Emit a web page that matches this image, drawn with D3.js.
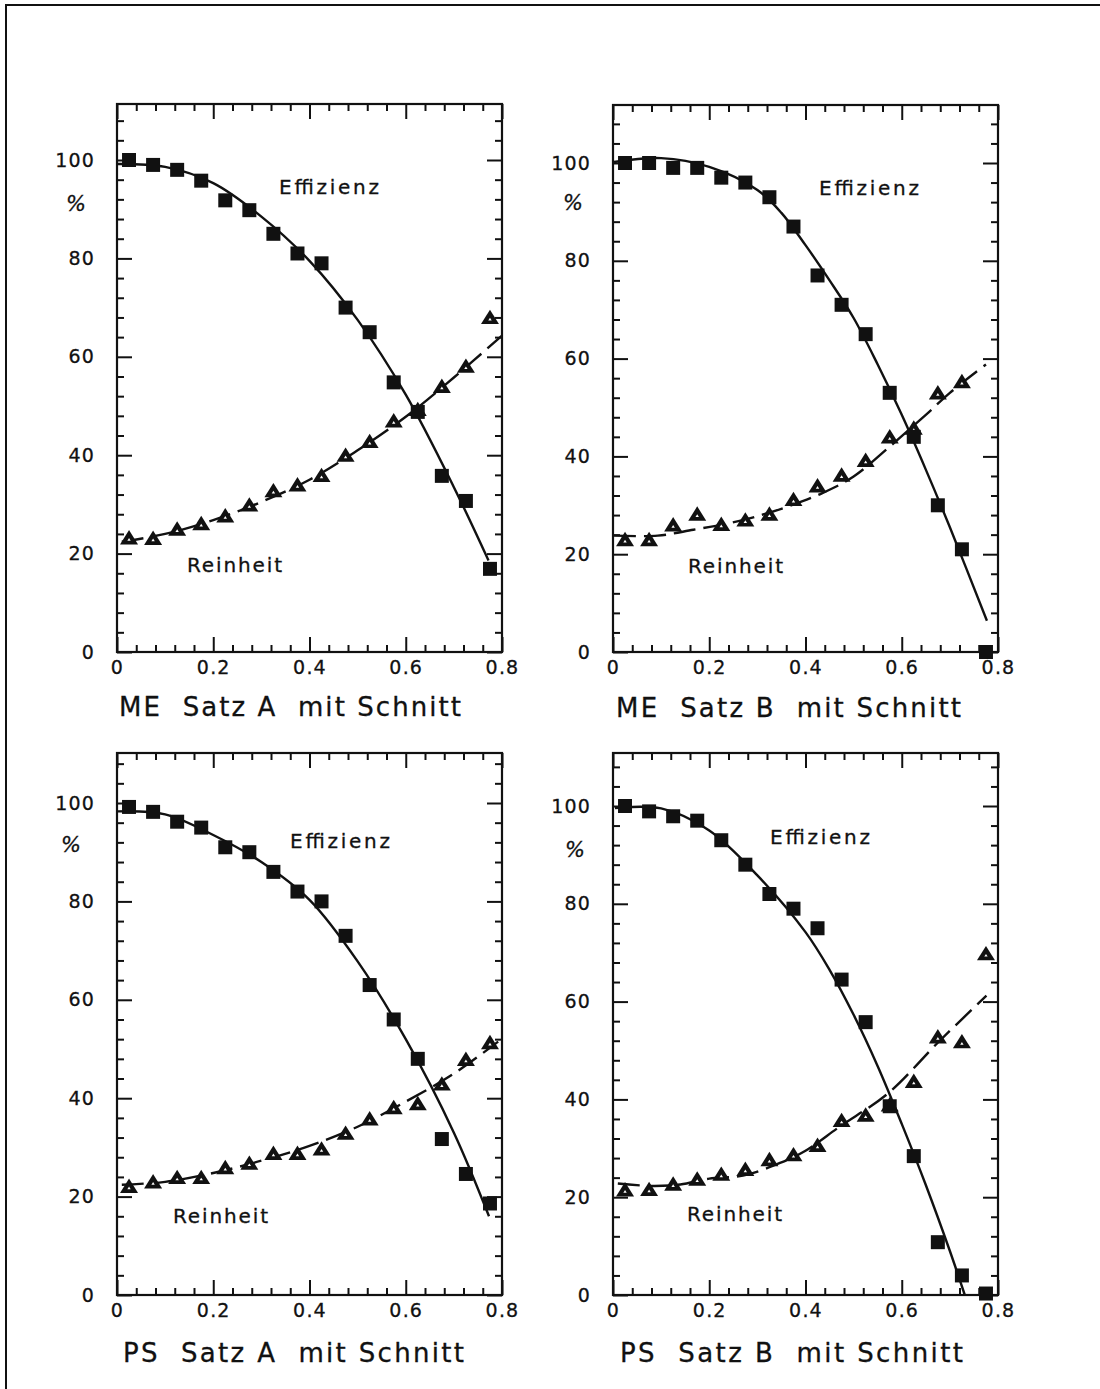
<!DOCTYPE html>
<html>
<head>
<meta charset="utf-8">
<script src="https://cdn.jsdelivr.net/npm/d3@7"></script>
<style>
  body { margin: 0; background: #fff; }
  svg { display: block; }
  text { font-family: "DejaVu Sans", sans-serif; fill: #111; }
</style>
</head>
<body>
<div id="chart"></div>
<script>
// cut values (x of the measured points)
const cutValues = [0.025, 0.075, 0.125, 0.175, 0.225, 0.275, 0.325, 0.375,
                   0.425, 0.475, 0.525, 0.575, 0.625, 0.675, 0.725, 0.775];

// measured points, in %
const effMeA  = [100, 99, 98, 95.8, 91.8, 89.8, 85, 81, 79, 70, 65, 54.8, 48.8, 35.8, 30.7, 16.9];
const reinMeA = [22.9, 22.8, 24.7, 25.8, 27.4, 29.6, 32.5, 33.7, 35.6, 39.7, 42.5, 46.7, 49, 53.7, 57.8, 67.7];
const effMeB  = [100, 100, 99, 99, 97, 96, 93, 87, 77, 71, 65, 53, 44, 30, 21, 0];
const reinMeB = [22.7, 22.7, 25.7, 27.9, 25.8, 26.7, 27.9, 30.9, 33.7, 35.9, 38.9, 43.7, 45.5, 52.7, 55, null];
const effPsA  = [99.2, 98.2, 96.2, 95, 91, 90, 86, 82, 80, 73, 63, 56, 48, 31.7, 24.6, 18.6];
const reinPsA = [21.8, 22.7, 23.6, 23.6, 25.6, 26.5, 28.5, 28.5, 29.4, 32.6, 35.5, 37.8, 38.6, 42.6, 47.6, 51];
const effPsB  = [100, 98.9, 97.9, 97, 93, 88, 82, 79, 75, 64.5, 55.8, 38.6, 28.4, 10.8, 4, 0.3];
const reinPsB = [21.2, 21.3, 22.4, 23.4, 24.4, 25.4, 27.4, 28.4, 30.3, 35.4, 36.5, 38.6, 43.4, 52.5, 51.5, 69.5];

// fitted curves [x, %]
const fitEffMeA  = [[0.002, 99.2], [0.1, 98.6], [0.2, 95.3], [0.3, 88.5], [0.4, 79.5], [0.5, 67.5], [0.6, 52.3], [0.7, 33.5], [0.772, 18.6]];
const fitReinMeA = [[0.01, 22.4], [0.1, 24], [0.2, 26.8], [0.3, 30.5], [0.4, 35], [0.5, 41], [0.6, 47.8], [0.7, 55.8], [0.8, 64.3]];
const fitEffMeB  = [[0.002, 100.2], [0.1, 101], [0.2, 99.2], [0.3, 94.5], [0.35, 89.8], [0.4, 83.2], [0.45, 76], [0.5, 68.3], [0.55, 58.8], [0.6, 48.5], [0.65, 37.3], [0.7, 25.5], [0.777, 6.4]];
const fitReinMeB = [[0.002, 23.8], [0.093, 23.8], [0.167, 25], [0.24, 26.3], [0.308, 28], [0.368, 29.9], [0.435, 32.5], [0.5, 35.9], [0.575, 42], [0.65, 48.5], [0.7, 53], [0.775, 58.8]];
const fitEffPsA  = [[0.002, 98.3], [0.1, 97.7], [0.2, 93.5], [0.3, 88], [0.4, 80.3], [0.5, 67.8], [0.6, 52], [0.7, 33], [0.773, 16]];
const fitReinPsA = [[0.01, 22.4], [0.1, 23], [0.2, 24.8], [0.3, 27.3], [0.4, 30.3], [0.5, 34.2], [0.6, 39.3], [0.7, 45], [0.792, 51.5]];
const fitEffPsB  = [[0.004, 99.6], [0.1, 99.5], [0.2, 95], [0.3, 85.8], [0.4, 74.2], [0.45, 66.5], [0.5, 57.3], [0.55, 46.8], [0.6, 35], [0.65, 22.5], [0.7, 9], [0.731, 0]];
const fitReinPsB = [[0.01, 22.8], [0.08, 22.3], [0.14, 22.6], [0.2, 23.8], [0.27, 24.4], [0.347, 27], [0.4, 29.5], [0.472, 34.5], [0.571, 41.2], [0.68, 52.1], [0.776, 61.2]];

// axis ticks
const xMajorTicks = [0, 0.2, 0.4, 0.6, 0.8];
const yMajorTicks = [0, 20, 40, 60, 80, 100];

const width = 1100, height = 1389;
const boxW = 385;

// panel layout (pixels)
const panels = [
  { left: 117, top: 104, bottom: 652, y100: 160, title: "ME  Satz A  mit Schnitt",
    eff: effMeA, rein: reinMeA, effFit: fitEffMeA, reinFit: fitReinMeA,
    titleX: 2, titleY: 64, titleW: 342, effX: 162, effY: 90, reinX: 70, reinY: -80, pctX: -41, pctY: 44 },
  { left: 613, top: 105, bottom: 652, y100: 163, title: "ME  Satz B  mit Schnitt",
    eff: effMeB, rein: reinMeB, effFit: fitEffMeB, reinFit: fitReinMeB,
    titleX: 3, titleY: 65, titleW: 345, effX: 206, effY: 90, reinX: 75, reinY: -79, pctX: -40, pctY: 40 },
  { left: 117, top: 753, bottom: 1295, y100: 803, title: "PS  Satz A  mit Schnitt",
    eff: effPsA, rein: reinPsA, effFit: fitEffPsA, reinFit: fitReinPsA,
    titleX: 6, titleY: 67, titleW: 341, effX: 173, effY: 95, reinX: 56, reinY: -72, pctX: -46, pctY: 42 },
  { left: 613, top: 753, bottom: 1295, y100: 806, title: "PS  Satz B  mit Schnitt",
    eff: effPsB, rein: reinPsB, effFit: fitEffPsB, reinFit: fitReinPsB,
    titleX: 7, titleY: 67, titleW: 343, effX: 157, effY: 91, reinX: 74, reinY: -74, pctX: -38, pctY: 44 }
];

const ink = "#111";

const svg = d3.select("#chart").append("svg")
  .attr("width", width)
  .attr("height", height);

svg.append("rect").attr("width", width).attr("height", height).attr("fill", "#fff");

// page frame (left and top edge of the scan)
svg.append("path")
  .attr("d", "M6,1389 L6,5 L1100,5")
  .attr("fill", "none")
  .attr("stroke", ink)
  .attr("stroke-width", 2);

// triangle marker, size = half of its base width
const flatTriangle = {
  draw(context, size) {
    const w = size, h = size * 1.6;
    context.moveTo(0, -h * 0.64);
    context.lineTo(w, h * 0.36);
    context.lineTo(-w, h * 0.36);
    context.closePath();
  }
};
const square = d3.symbol(d3.symbolSquare, 196);
const triangle = d3.symbol(flatTriangle, 9);
const triangleInner = d3.symbol(flatTriangle, 1.7);

panels.forEach(p => {
  const boxH = p.bottom - p.top;
  const x = d3.scaleLinear().domain([0, 0.8]).range([0, boxW]);
  const y = d3.scaleLinear().domain([0, 100]).range([p.bottom - p.top, p.y100 - p.top]);
  const yMax = y.invert(0);

  const g = svg.append("g").attr("transform", "translate(" + p.left + "," + p.top + ")");

  // minor ticks
  const xMinor = d3.range(0, 0.8001, 0.04).filter(v => Math.abs(v / 0.2 - Math.round(v / 0.2)) > 1e-6);
  const yMinor = d3.range(0, yMax - 1, 4).filter(v => v % 20 !== 0);

  const axes = [
    [d3.axisBottom(x).tickValues(xMinor).tickSize(-7).tickFormat(""), "translate(0," + boxH + ")"],
    [d3.axisTop(x).tickValues(xMinor).tickSize(-7).tickFormat(""), "translate(0,0)"],
    [d3.axisLeft(y).tickValues(yMinor).tickSize(-7).tickFormat(""), "translate(0,0)"],
    [d3.axisRight(y).tickValues(yMinor).tickSize(-7).tickFormat(""), "translate(" + boxW + ",0)"],
    [d3.axisTop(x).tickValues(xMajorTicks).tickSize(-15).tickFormat(""), "translate(0,0)"],
    [d3.axisRight(y).tickValues(yMajorTicks).tickSize(-15).tickFormat(""), "translate(" + boxW + ",0)"],
    [d3.axisBottom(x).tickValues(xMajorTicks).tickSize(-15).tickPadding(9)
      .tickFormat(d => d === 0 ? "0" : d3.format(".1f")(d)), "translate(0," + boxH + ")"],
    [d3.axisLeft(y).tickValues(yMajorTicks).tickSize(-15).tickPadding(22), "translate(0,0)"]
  ];

  axes.forEach(([axis, tr]) => {
    const a = g.append("g").attr("transform", tr).call(axis);
    a.select(".domain").remove();
    a.selectAll("line").attr("stroke", ink).attr("stroke-width", 2);
    a.selectAll("text")
      .attr("font-family", "DejaVu Sans, sans-serif")
      .attr("font-size", 19)
      .attr("letter-spacing", 1.2)
      .attr("fill", ink)
      .attr("stroke", ink)
      .attr("stroke-width", 0.3);
  });

  // plot frame
  g.append("rect")
    .attr("width", boxW)
    .attr("height", boxH)
    .attr("fill", "none")
    .attr("stroke", ink)
    .attr("stroke-width", 2.2);

  const line = d3.line()
    .x(d => x(d[0]))
    .y(d => y(d[1]))
    .curve(d3.curveCatmullRom.alpha(0.5));

  g.append("path")
    .attr("d", line(p.reinFit))
    .attr("fill", "none")
    .attr("stroke", ink)
    .attr("stroke-width", 2.4)
    .attr("stroke-dasharray", "22,8");

  g.append("path")
    .attr("d", line(p.effFit))
    .attr("fill", "none")
    .attr("stroke", ink)
    .attr("stroke-width", 2.4);

  const reinPts = cutValues.map((c, i) => [c, p.rein[i]]).filter(d => d[1] != null);
  const effPts = cutValues.map((c, i) => [c, p.eff[i]]).filter(d => d[1] != null);

  const tri = g.selectAll(".tri").data(reinPts).enter().append("g")
    .attr("class", "tri")
    .attr("transform", d => "translate(" + x(d[0]) + "," + y(d[1]) + ")");
  tri.append("path").attr("d", triangle).attr("fill", ink);
  tri.append("path").attr("d", triangleInner).attr("fill", "#fff").attr("transform", "translate(0,0.5)");

  g.selectAll(".sq").data(effPts).enter().append("path")
    .attr("class", "sq")
    .attr("d", square)
    .attr("fill", ink)
    .attr("transform", d => "translate(" + x(d[0]) + "," + y(d[1]) + ")");

  // curve labels
  g.append("text")
    .attr("x", p.effX).attr("y", p.effY)
    .attr("font-size", 20)
    .attr("stroke", ink).attr("stroke-width", 0.3)
    .attr("textLength", 100).attr("lengthAdjust", "spacing")
    .text("Effizienz");

  g.append("text")
    .attr("x", p.reinX).attr("y", boxH + p.reinY)
    .attr("font-size", 20)
    .attr("stroke", ink).attr("stroke-width", 0.3)
    .attr("textLength", 95).attr("lengthAdjust", "spacing")
    .text("Reinheit");

  g.append("text")
    .attr("x", p.pctX).attr("y", y(100) + p.pctY)
    .attr("text-anchor", "middle")
    .attr("dy", "0.35em")
    .attr("font-size", 21)
    .attr("font-style", "italic")
    .attr("stroke", ink).attr("stroke-width", 0.3)
    .text("%");

  // panel title
  g.append("text")
    .attr("x", p.titleX).attr("y", boxH + p.titleY)
    .attr("font-size", 26)
    .attr("stroke", ink).attr("stroke-width", 0.3)
    .attr("xml:space", "preserve")
    .style("white-space", "pre")
    .attr("textLength", p.titleW).attr("lengthAdjust", "spacing")
    .text(p.title);
});
</script>
</body>
</html>
